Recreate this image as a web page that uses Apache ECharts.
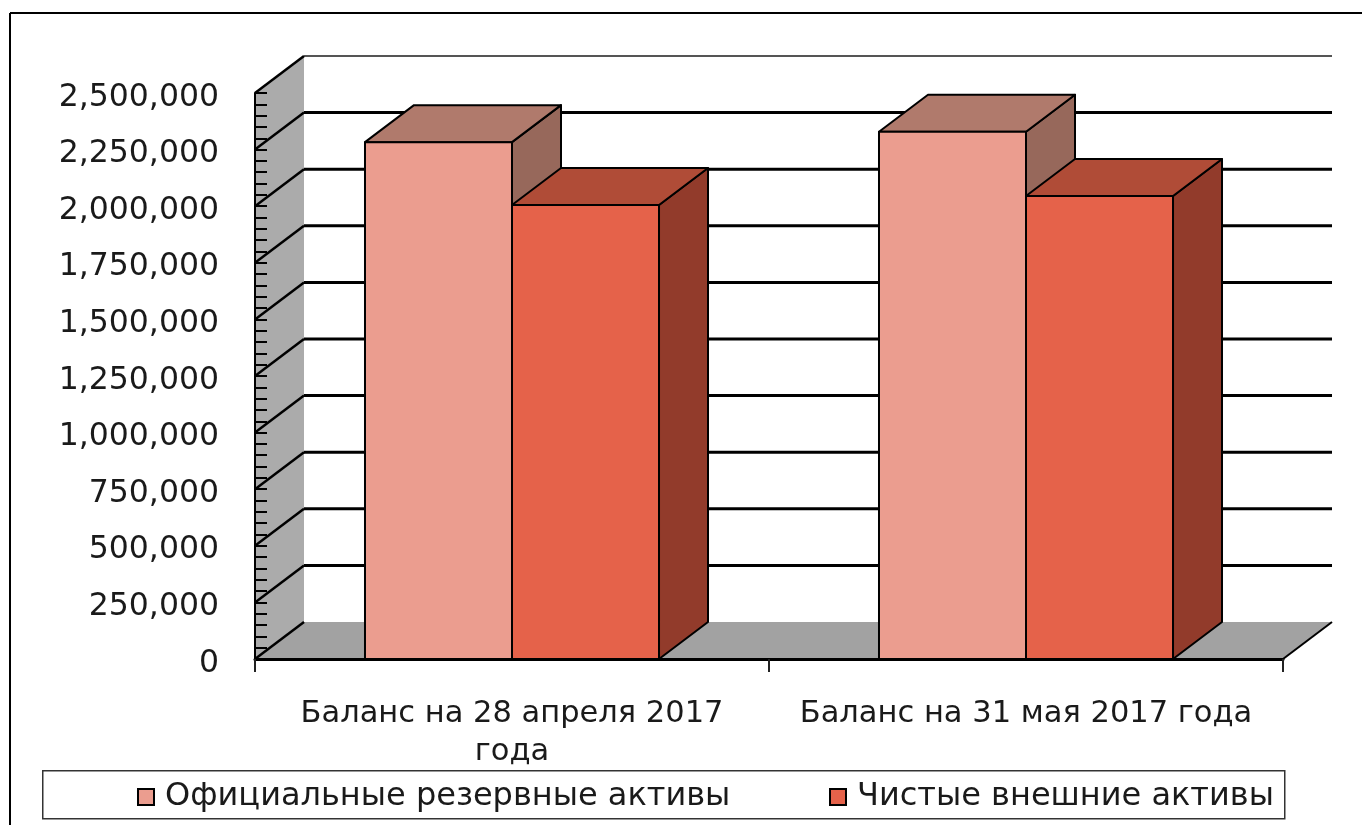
<!DOCTYPE html>
<html>
<head>
<meta charset="utf-8">
<title>Официальные резервные и чистые внешние активы</title>
<script src="https://cdn.jsdelivr.net/npm/echarts@6/dist/echarts.min.js"></script>
<style>
  html, body { margin: 0; padding: 0; background: #ffffff; }
  #chart { width: 1362px; height: 825px; }
</style>
</head>
<body>
<div id="chart"></div>
<script>
// Categories and series values (thousands)
const categories = ['Баланс на 28 апреля 2017 года', 'Баланс на 31 мая 2017 года'];
const seriesNames = ['Официальные резервные активы', 'Чистые внешние активы'];
const officialReserves = [2283000, 2329000];
const netForeignAssets = [2005000, 2045000];

// Value axis ticks
const yTicks = [0, 250000, 500000, 750000, 1000000, 1250000, 1500000, 1750000, 2000000, 2250000, 2500000];
const yMin = 0;
const yMax = 2500000;
const yStep = 250000;

// 3D look: depth offset of the back plane, in pixels
const DX = 49;
const DY = -37;
const BAR_FRACTION = 0.286;

const FONT = "'DejaVu Sans', 'Noto Sans', sans-serif";
const LABEL_CHARS = 26;   // category labels wrap after this many characters

// Face colours for each series: front, top, side
const palettes = [
  { front: '#eb9d8f', top: '#b07a6c', side: '#97685b' },
  { front: '#e5624a', top: '#b04c37', side: '#923b2b' }
];

function fmt(v) {
  return String(v).replace(/\B(?=(\d{3})+(?!\d))/g, ',');
}

// Word wrap for the category names
function wrap(text) {
  const words = text.split(' ');
  const lines = [];
  let line = '';
  words.forEach(function (w) {
    const next = line ? line + ' ' + w : w;
    if (next.length > LABEL_CHARS && line) {
      lines.push(line);
      line = w;
    } else {
      line = next;
    }
  });
  if (line) lines.push(line);
  return lines.join('\n');
}

function boxRenderer(slot) {
  const pal = palettes[slot];
  return function (params, api) {
    const cat = api.value(0);
    const val = api.value(1);
    const base = api.coord([cat, 0]);
    const top = api.coord([cat, val]);
    const w = api.size([1, 0])[0] * BAR_FRACTION;
    const x0 = slot === 0 ? base[0] - w : base[0];
    const x1 = x0 + w;
    const yb = base[1];
    const yt = top[1];
    const stroke = { stroke: '#000', lineWidth: 2, lineJoin: 'round' };
    return {
      type: 'group',
      children: [
        { type: 'polygon', shape: { points: [[x1, yt], [x1 + DX, yt + DY], [x1 + DX, yb + DY], [x1, yb]] },
          style: Object.assign({ fill: pal.side }, stroke) },
        { type: 'polygon', shape: { points: [[x0, yt], [x0 + DX, yt + DY], [x1 + DX, yt + DY], [x1, yt]] },
          style: Object.assign({ fill: pal.top }, stroke) },
        { type: 'polygon', shape: { points: [[x0, yt], [x1, yt], [x1, yb], [x0, yb]] },
          style: Object.assign({ fill: pal.front }, stroke) }
      ]
    };
  };
}

// Side wall, floor, back-wall gridlines and the wall diagonals
function wallRenderer(params, api) {
  const cs = params.coordSys;
  const left = cs.x, right = cs.x + cs.width;
  const top = cs.y, bottom = cs.y + cs.height;
  const v = api.value(1);
  const y = api.coord([0, v])[1];
  const children = [];
  if (params.dataIndex === 0) {
    children.push({ type: 'polygon',
      shape: { points: [[left, top], [left + DX, top + DY], [left + DX, bottom + DY], [left, bottom]] },
      style: { fill: '#ababab' } });
    children.push({ type: 'polygon',
      shape: { points: [[left, bottom], [left + DX, bottom + DY], [right + DX, bottom + DY], [right, bottom]] },
      style: { fill: '#a2a2a2' } });
    children.push({ type: 'line',
      shape: { x1: right, y1: bottom, x2: right + DX, y2: bottom + DY },
      style: { stroke: '#000', lineWidth: 2 } });
  }
  if (v > yMin) {
    children.push({ type: 'line',
      shape: { x1: left + DX, y1: y + DY, x2: right + DX, y2: y + DY },
      style: { stroke: v >= yMax ? '#555' : '#000', lineWidth: v >= yMax ? 2 : 3 } });
  }
  children.push({ type: 'line',
    shape: { x1: left, y1: y, x2: left + DX, y2: y + DY },
    style: { stroke: '#000', lineWidth: 2.5 } });
  return { type: 'group', children: children };
}

const chart = echarts.init(document.getElementById('chart'), null, { renderer: 'canvas' });

const legendText = { fontSize: 32, color: '#1a1a1a', fontFamily: FONT, padding: [0, 0, 0, 6] };

chart.setOption({
  animation: false,
  backgroundColor: '#ffffff',
  textStyle: { fontFamily: FONT },
  grid: { left: 255, top: 93, width: 1028, height: 566 },
  graphic: [
    // outer frame: top and left edges
    { type: 'line', z: -10, shape: { x1: 10, y1: 13, x2: 1362, y2: 13 },
      style: { stroke: '#000', lineWidth: 2 } },
    { type: 'line', z: -10, shape: { x1: 10, y1: 13, x2: 10, y2: 825 },
      style: { stroke: '#000', lineWidth: 2 } },
    // legend frame
    { type: 'rect', left: 42, top: 770, z: -5,
      shape: { width: 1242, height: 48 },
      style: { fill: '#fff', stroke: '#333', lineWidth: 1.5 } }
  ],
  legend: [
    { data: [seriesNames[0]], left: 137, top: 781, padding: 0, icon: 'rect',
      itemWidth: 16, itemHeight: 16,
      itemStyle: { borderColor: '#000', borderWidth: 2 },
      textStyle: legendText },
    { data: [seriesNames[1]], left: 829, top: 781, padding: 0, icon: 'rect',
      itemWidth: 16, itemHeight: 16,
      itemStyle: { borderColor: '#000', borderWidth: 2 },
      textStyle: legendText }
  ],
  xAxis: {
    type: 'category',
    data: categories,
    z: 4,
    axisLine: { lineStyle: { color: '#000', width: 3 } },
    axisTick: { show: true, alignWithLabel: false, length: 13, lineStyle: { color: '#222', width: 2 } },
    axisLabel: {
      margin: 36, fontSize: 30.5, color: '#1a1a1a', fontFamily: FONT,
      lineHeight: 38, interval: 0, formatter: wrap
    },
    splitLine: { show: false }
  },
  yAxis: {
    type: 'value',
    min: yMin, max: yMax, interval: yStep,
    z: 2,
    axisLine: { show: true, lineStyle: { color: '#000', width: 2 } },
    axisTick: { show: true, inside: true, length: 12, lineStyle: { color: '#000', width: 2 } },
    minorTick: { show: true, splitNumber: 5, length: 12, lineStyle: { color: '#000', width: 2 } },
    axisLabel: { margin: 36, fontSize: 31.5, color: '#1a1a1a', fontFamily: FONT,
      verticalAlign: 'top', lineHeight: 9, formatter: fmt },
    splitLine: { show: false }
  },
  series: [
    {
      type: 'custom', name: 'walls', z: 1, clip: false, silent: true,
      renderItem: wallRenderer,
      data: yTicks.map(function (t) { return [0, t]; })
    },
    {
      type: 'custom', name: seriesNames[0], z: 3, clip: false,
      itemStyle: { color: palettes[0].front },
      renderItem: boxRenderer(0),
      data: officialReserves.map(function (v, i) { return [i, v]; })
    },
    {
      type: 'custom', name: seriesNames[1], z: 3, clip: false,
      itemStyle: { color: palettes[1].front },
      renderItem: boxRenderer(1),
      data: netForeignAssets.map(function (v, i) { return [i, v]; })
    }
  ]
});
</script>
</body>
</html>
